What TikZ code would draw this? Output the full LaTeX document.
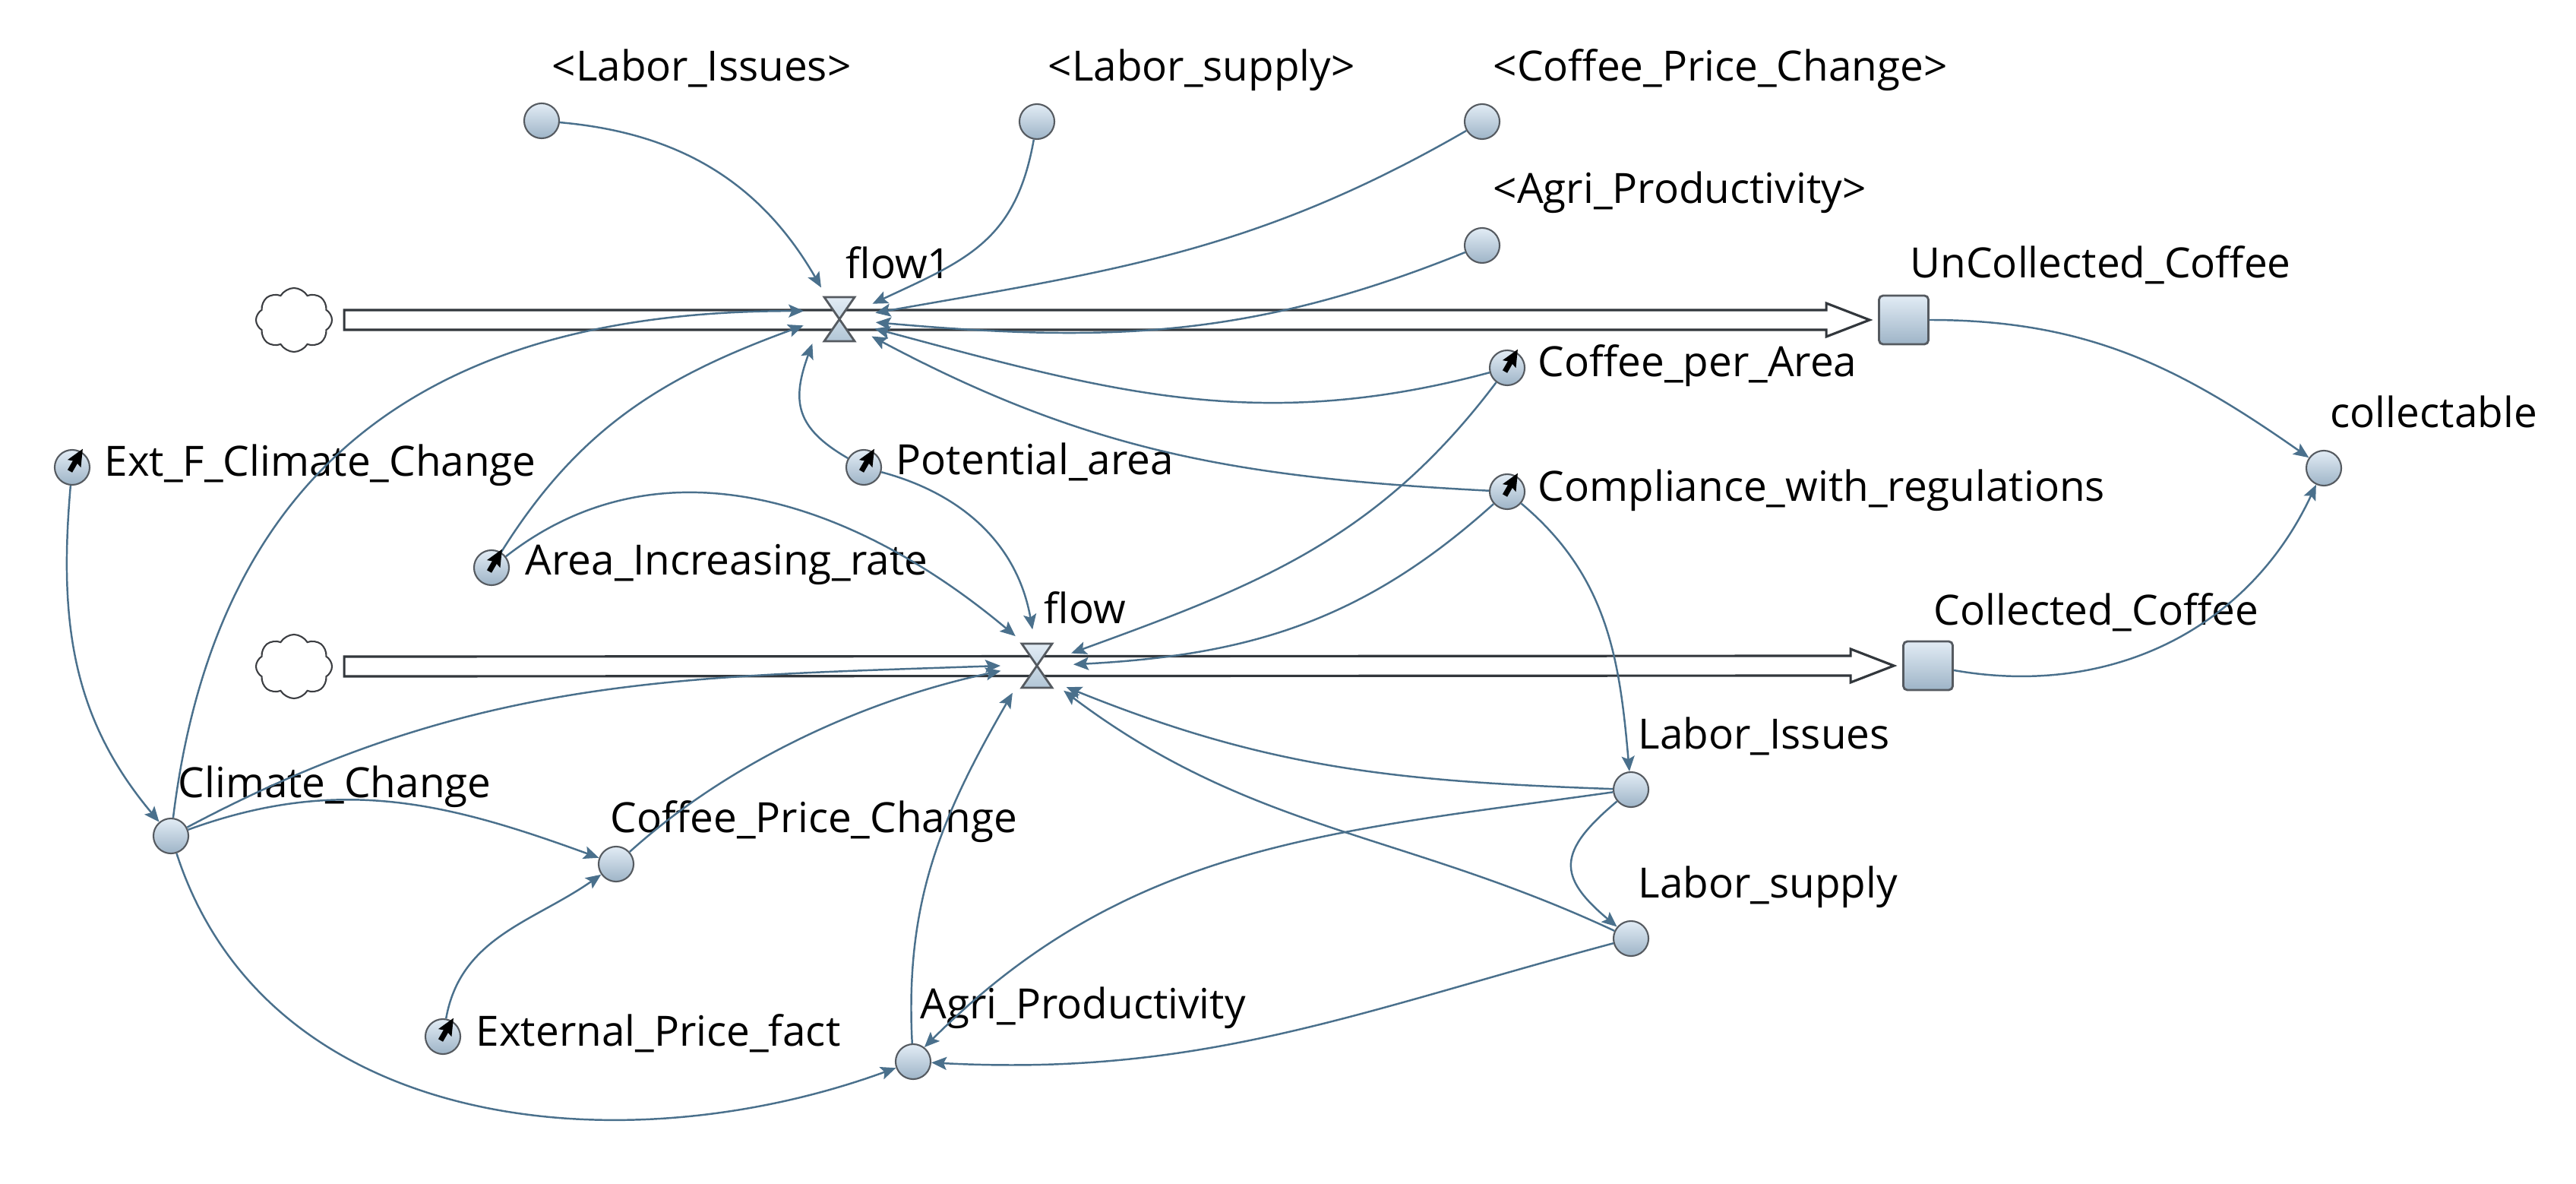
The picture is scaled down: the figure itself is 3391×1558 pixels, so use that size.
\documentclass[tikz,border=0pt]{standalone}
\usepackage{fontspec}
\setmainfont{Open Sans}
\usetikzlibrary{arrows.meta,shapes.symbols}

\definecolor{linkblue}{RGB}{74,112,140}
\definecolor{edgegrey}{RGB}{85,90,96}
\definecolor{pipegrey}{RGB}{50,55,60}
\definecolor{cloudgrey}{RGB}{60,62,66}
\definecolor{auxtop}{RGB}{226,236,245}
\definecolor{auxbot}{RGB}{158,180,199}
\definecolor{valvebot}{RGB}{178,198,214}

\tikzset{
  aux/.style={circle,draw=edgegrey,line width=0.6pt,top color=auxtop,bottom color=auxbot,minimum size=0.46cm,inner sep=0pt},
  stock/.style={rectangle,rounded corners=1.5pt,draw=edgegrey,line width=0.8pt,top color=auxtop,bottom color=auxbot,minimum width=0.65cm,minimum height=0.64cm,inner sep=0pt},
  valve/.style={circle,minimum size=0.96cm,inner sep=0pt,outer sep=0pt},
  source/.style={cloud,cloud puffs=8,cloud puff arc=120,aspect=1.2,draw=cloudgrey,line width=0.6pt,minimum width=1.0cm,minimum height=0.84cm,inner sep=0pt},
  lbl/.style={anchor=base west,inner sep=0pt},
  link/.style={->,draw=linkblue,line width=0.7pt},
  pipe/.style={draw=pipegrey,line width=0.9pt,fill=white,line join=miter},
  hourglass/.style={draw=edgegrey,line width=0.8pt,top color=auxtop,bottom color=valvebot},
  dial/.style={-{Stealth[length=0.22cm,width=0.19cm,inset=0.03cm]},line width=2pt,black}
}

\begin{document}
\begin{tikzpicture}[x=0.01cm,y=0.01cm,font=\fontsize{15.6}{18}\selectfont,
  >={Stealth[length=0.2cm,width=0.17cm,inset=0.04cm]}]
\useasboundingbox (0,0) rectangle (3391,-1558);

\node[aux] (1) at (713,-159) {};
\node[aux] (2) at (1365,-160) {};
\node[aux] (3) at (1951,-160) {};
\node[aux] (4) at (1951,-323) {};
\node[aux] (5) at (1984,-484) {};
\node[aux] (6) at (1984,-647) {};
\node[aux] (7) at (1137,-615) {};
\node[aux] (8) at (95,-615) {};
\node[aux] (9) at (647,-747) {};
\node[aux] (10) at (225,-1100) {};
\node[aux] (11) at (811,-1137) {};
\node[aux] (12) at (583,-1364) {};
\node[aux] (13) at (1202,-1397) {};
\node[aux] (14) at (2147,-1039) {};
\node[aux] (15) at (2147,-1235) {};
\node[aux] (16) at (3059,-616) {};
\node[stock] (17) at (2506,-421) {};
\node[stock] (18) at (2538,-876) {};
\node[valve] (19) at (1105,-420) {};
\node[valve] (20) at (1365,-876) {};
\node[source] (21) at (387,-421) {};
\node[source] (22) at (387,-877) {};

\node[lbl] (1t) at (726,-107) {<Labor\_Issues>};
\node[lbl] (2t) at (1379,-107) {<Labor\_supply>};
\node[lbl] (3t) at (1965,-107) {<Coffee\_Price\_Change>};
\node[lbl] (4t) at (1965,-268) {<Agri\_Productivity>};
\node[lbl] (5t) at (2024,-495) {Coffee\_per\_Area};
\node[lbl] (6t) at (2024,-659) {Compliance\_with\_regulations};
\node[lbl] (7t) at (1179,-624) {Potential\_area};
\node[lbl] (8t) at (137,-626) {Ext\_F\_Climate\_Change};
\node[lbl] (9t) at (691,-756) {Area\_Increasing\_rate};
\node[lbl] (10t) at (234,-1049) {Climate\_Change};
\node[lbl] (11t) at (803,-1095) {Coffee\_Price\_Change};
\node[lbl] (12t) at (626,-1376) {External\_Price\_fact};
\node[lbl] (13t) at (1211,-1340) {Agri\_Productivity};
\node[lbl] (14t) at (2156,-985) {Labor\_Issues};
\node[lbl] (15t) at (2156,-1181) {Labor\_supply};
\node[lbl] (16t) at (3067,-562) {collectable};
\node[lbl] (17t) at (2514,-366) {UnCollected\_Coffee};
\node[lbl] (18t) at (2545,-822) {Collected\_Coffee};
\node[lbl] (19t) at (1113,-367) {flow1};
\node[lbl] (20t) at (1374,-820) {flow};

\draw[pipe] ([shift={(15,13)}]21.east) -- ([shift={(-68,13)}]17.west) -- ([shift={(-68,22)}]17.west)
  -- ([shift={(-11,0)}]17.west) -- ([shift={(-68,-22)}]17.west) -- ([shift={(-68,-13)}]17.west)
  -- ([shift={(15,-13)}]21.east) -- cycle;
\draw[pipe] ([shift={(15,13)}]22.east) -- ([shift={(-68,13)}]18.west) -- ([shift={(-68,22)}]18.west)
  -- ([shift={(-11,0)}]18.west) -- ([shift={(-68,-22)}]18.west) -- ([shift={(-68,-13)}]18.west)
  -- ([shift={(15,-13)}]22.east) -- cycle;
\foreach \v in {19,20}
  \draw[hourglass] ([shift={(-20,29)}]\v.center) -- ([shift={(20,29)}]\v.center)
    -- ([shift={(-20,-29)}]\v.center) -- ([shift={(20,-29)}]\v.center) -- cycle;

\draw[link] (1) to[out=-5,in=120] (19);
\draw[link] (2) to[out=-100,in=25,looseness=1.15] (19);
\draw[link] (3) to[out=-150,in=10] (19);
\draw[link] (4) to[out=-158,in=-5] (19);
\draw[link] (5) to[out=195,in=-15] (19);
\draw[link] (6) to[out=177,in=-28] (19);
\draw[link] (7) to[out=150,in=-110,looseness=1.3] (19.222);
\draw[link] (10) to[out=83,in=180,looseness=1.15] (19.167);
\draw[link] (9) to[out=58,in=200] (19.190);
\draw[link] (9) to[out=38,in=140] (20.126);
\draw[link] (7) to[out=-15,in=100] (20.97);
\draw[link] (5) to[out=-127,in=20] (20.20);
\draw[link] (6) to[out=-138,in=3] (20.2);
\draw[link] (6) to[out=-40,in=95] (14);
\draw[link] (10) to[out=28,in=182] (20.180);
\draw[link] (11) to[out=42,in=192,looseness=0.85] (20.188);
\draw[link] (13) to[out=93,in=-120] (20.228);
\draw[link] (14) to[out=178,in=-22] (20.-36);
\draw[link] (15) to[out=155,in=-37] (20.-43);
\draw[link] (14) to[out=188,in=45] (13.52);
\draw[link] (15) to[out=195,in=-3] (13);
\draw[link] (14) to[out=-140,in=140,looseness=1.6] (15);
\draw[link] (8) to[out=-95,in=130] (10);
\draw[link] (10) to[out=20,in=160] (11);
\draw[link] (10) to[out=-72,in=200] (13);
\draw[link] (12) to[out=80,in=215] (11);
\draw[link] (17) to[out=0,in=145] (16);
\draw[link] (18) to[out=-10,in=-115] (16);

\foreach \n in {5,6,7,8,9,12}
  \draw[dial] ([shift={(-3,-5)}]\n.center) -- ++(60:34);
\end{tikzpicture}
\end{document}
